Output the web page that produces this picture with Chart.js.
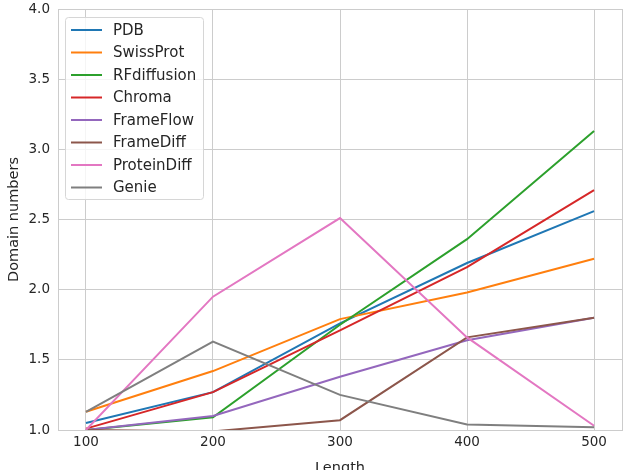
<!DOCTYPE html>
<html>
<head>
<meta charset="utf-8">
<script src="https://cdn.jsdelivr.net/npm/chart.js@4.4.1/dist/chart.umd.min.js"></script>
<style>
  html, body { margin: 0; padding: 0; background: #fff; overflow: hidden; }
  #wrap { width: 625px; height: 470px; overflow: hidden; }
  #box { width: 625px; height: 477px; }
</style>
</head>
<body>
<div id="wrap"><div id="box"><canvas id="chart"></canvas></div></div>
<script>
// data
const lengths = [100, 200, 300, 400, 500];
const yTicks = [1.0, 1.5, 2.0, 2.5, 3.0, 3.5, 4.0];

const names = ["PDB", "SwissProt", "RFdiffusion", "Chroma", "FrameFlow", "FrameDiff", "ProteinDiff", "Genie"];
const colors = ["#1f77b4", "#ff7f0e", "#2ca02c", "#d62728", "#9467bd", "#8c564b", "#e377c2", "#7f7f7f"];

const pdb = [1.05, 1.27, 1.76, 2.19, 2.56];
const swissProt = [1.13, 1.42, 1.79, 1.98, 2.22];
const rfDiffusion = [1.00, 1.09, 1.75, 2.36, 3.13];
const chroma = [1.01, 1.27, 1.71, 2.16, 2.71];
const frameFlow = [1.00, 1.10, 1.38, 1.64, 1.80];
const frameDiff = [1.00, 0.99, 1.07, 1.66, 1.80];
const proteinDiff = [1.00, 1.95, 2.51, 1.66, 1.03];
const genie = [1.13, 1.63, 1.25, 1.04, 1.02];

const series = [pdb, swissProt, rfDiffusion, chroma, frameFlow, frameDiff, proteinDiff, genie];

const FONT = "'DejaVu Sans', sans-serif";
const TEXT = "#262626";
const GRID = "#cccccc";

// frame round the plot, like the seaborn spines
const framePlugin = {
  id: "frame",
  afterDraw(chart) {
    const a = chart.chartArea;
    const ctx = chart.ctx;
    ctx.save();
    ctx.strokeStyle = GRID;
    ctx.lineWidth = 1;
    ctx.strokeRect(a.left + 0.5, a.top + 0.5, a.right - a.left, a.bottom - a.top);
    ctx.restore();
  },
};

// legend box in the upper left corner of the plot
const legendPlugin = {
  id: "boxLegend",
  afterDraw(chart) {
    const a = chart.chartArea;
    const ctx = chart.ctx;
    const x0 = a.left + 7, y0 = a.top + 8;
    const w = 138, h = 182, step = 22.5;
    ctx.save();
    ctx.fillStyle = "rgba(255,255,255,0.8)";
    ctx.strokeStyle = "#d6d6d6";
    ctx.lineWidth = 1;
    ctx.beginPath();
    ctx.roundRect(x0 + 0.5, y0 + 0.5, w, h, 3);
    ctx.fill();
    ctx.stroke();
    ctx.font = "15px " + FONT;
    ctx.textBaseline = "middle";
    chart.data.datasets.forEach((ds, i) => {
      const y = y0 + 13 + i * step;
      ctx.strokeStyle = ds.borderColor;
      ctx.lineWidth = 2;
      ctx.beginPath();
      ctx.moveTo(x0 + 6, y);
      ctx.lineTo(x0 + 37, y);
      ctx.stroke();
      ctx.fillStyle = TEXT;
      ctx.fillText(ds.label, x0 + 48, y + 1);
    });
    ctx.restore();
  },
};

const datasets = series.map((vals, i) => ({
  label: names[i],
  data: lengths.map((x, j) => ({ x: x, y: vals[j] })),
  borderColor: colors[i],
  backgroundColor: colors[i],
  borderWidth: 2,
  pointRadius: 0,
  tension: 0,
  order: series.length - i,
}));

new Chart(document.getElementById("chart"), {
  type: "line",
  data: { datasets: datasets },
  plugins: [framePlugin, legendPlugin],
  options: {
    responsive: true,
    maintainAspectRatio: false,
    animation: false,
    layout: { padding: { top: 0, right: 3, left: 0, bottom: 0 } },
    plugins: {
      legend: { display: false },
      tooltip: { enabled: false },
    },
    scales: {
      x: {
        type: "linear",
        min: 78,
        max: 522,
        afterBuildTicks: (scale) => {
          scale.ticks = lengths.map((v) => ({ value: v }));
        },
        afterFit: (scale) => {
          scale.height = 47;
        },
        grid: { color: GRID, lineWidth: 1, drawTicks: false },
        border: { display: false },
        ticks: {
          color: TEXT,
          font: { family: FONT, size: 13.5 },
          padding: 4,
          maxRotation: 0,
        },
        title: {
          display: true,
          text: "Length",
          color: TEXT,
          font: { family: FONT, size: 14.5 },
          padding: { top: 0, bottom: 0 },
        },
      },
      y: {
        min: 1,
        max: 4,
        afterBuildTicks: (scale) => {
          scale.ticks = yTicks.map((v) => ({ value: v }));
        },
        afterFit: (scale) => {
          scale.width = 58;
          scale.paddingTop = 9;
          scale.paddingBottom = 0;
        },
        grid: { color: GRID, lineWidth: 1, drawTicks: false },
        border: { display: false },
        ticks: {
          color: TEXT,
          font: { family: FONT, size: 13.5 },
          padding: 8,
          callback: (v) => Number(v).toFixed(1),
        },
        title: {
          display: true,
          text: "Domain numbers",
          color: TEXT,
          font: { family: FONT, size: 14.5 },
          padding: { top: 6, bottom: 0 },
        },
      },
    },
  },
});
</script>
</body>
</html>
